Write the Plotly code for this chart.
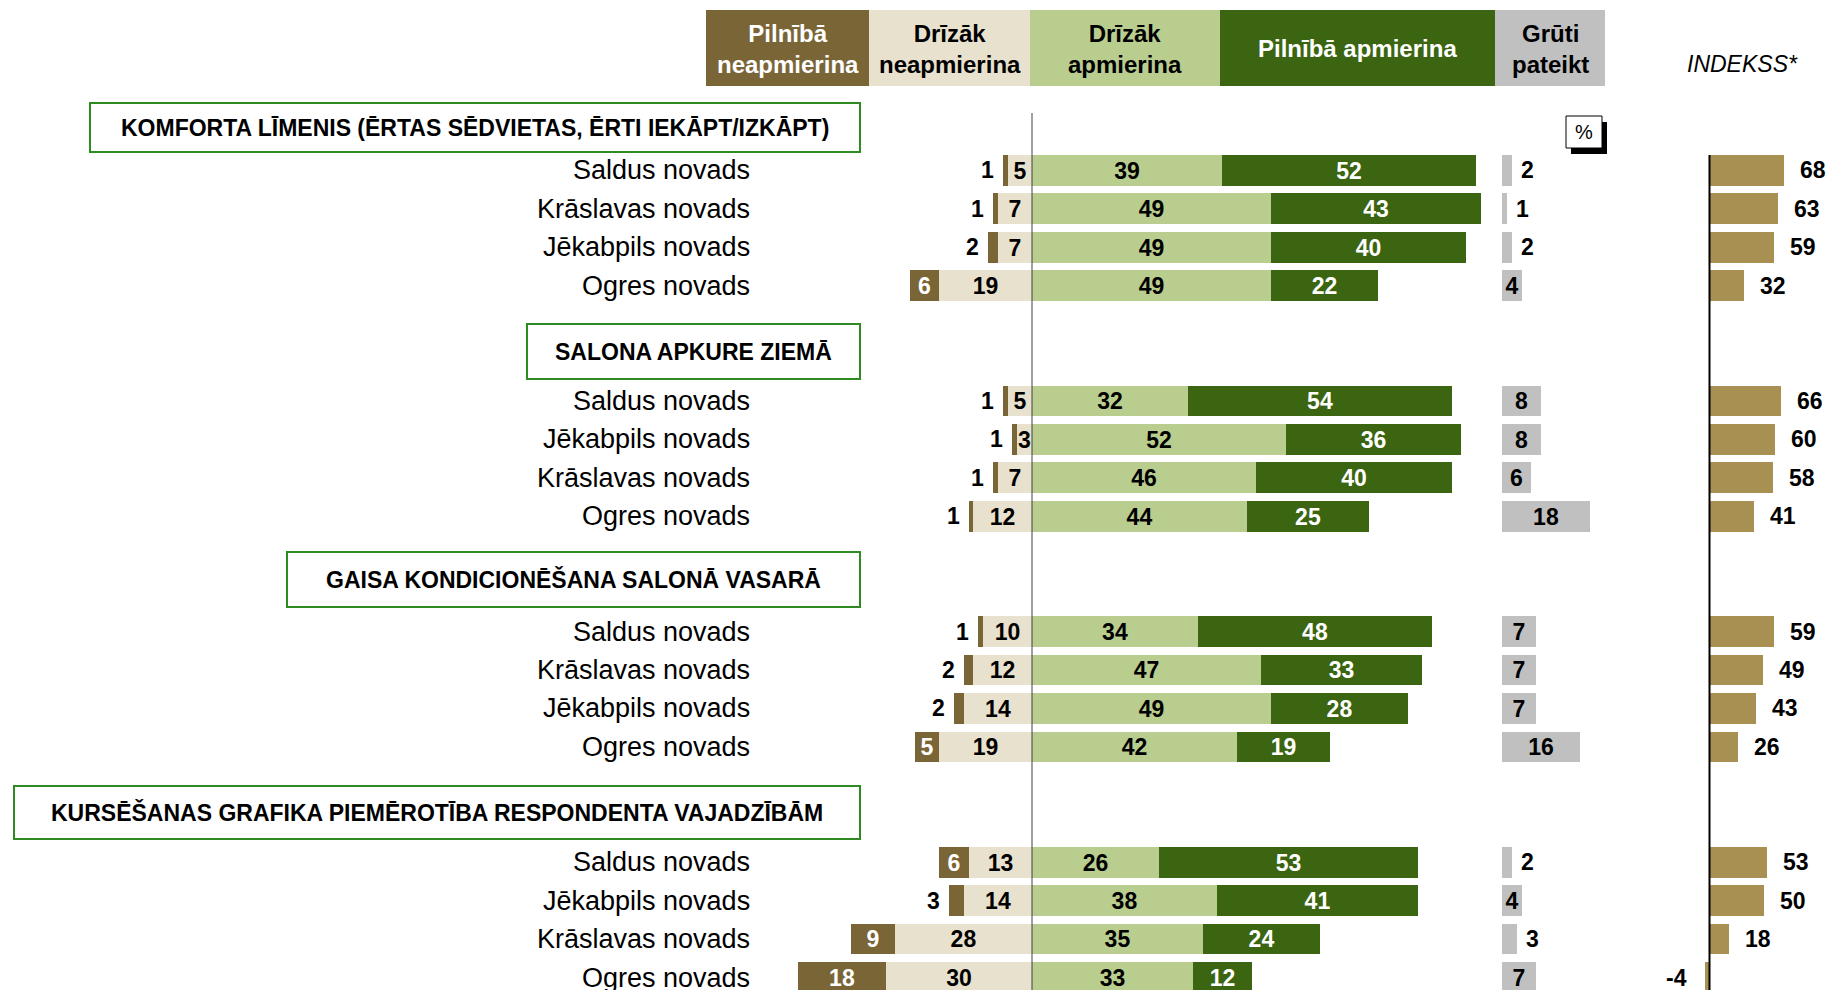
import plotly.graph_objects as go

W, H = 1829, 990

# ---------------- data ----------------
group_titles = [
    "KOMFORTA LĪMENIS (ĒRTAS SĒDVIETAS, ĒRTI IEKĀPT/IZKĀPT)",
    "SALONA APKURE ZIEMĀ",
    "GAISA KONDICIONĒŠANA SALONĀ VASARĀ",
    "KURSĒŠANAS GRAFIKA PIEMĒROTĪBA RESPONDENTA VAJADZĪBĀM",
]
regions = [
    ["Saldus novads", "Krāslavas novads", "Jēkabpils novads", "Ogres novads"],
    ["Saldus novads", "Jēkabpils novads", "Krāslavas novads", "Ogres novads"],
    ["Saldus novads", "Krāslavas novads", "Jēkabpils novads", "Ogres novads"],
    ["Saldus novads", "Jēkabpils novads", "Krāslavas novads", "Ogres novads"],
]
fully_dissatisfied = [[1, 1, 2, 6], [1, 1, 1, 1], [1, 2, 2, 5], [6, 3, 9, 18]]
rather_dissatisfied = [[5, 7, 7, 19], [5, 3, 7, 12], [10, 12, 14, 19], [13, 14, 28, 30]]
rather_satisfied = [[39, 49, 49, 49], [32, 52, 46, 44], [34, 47, 49, 42], [26, 38, 35, 33]]
fully_satisfied = [[52, 43, 40, 22], [54, 36, 40, 25], [48, 33, 28, 19], [53, 41, 24, 12]]
hard_to_say = [[2, 1, 2, 4], [8, 8, 6, 18], [7, 7, 7, 16], [2, 4, 3, 7]]
index_values = [[68, 63, 59, 32], [66, 60, 58, 41], [59, 49, 43, 26], [53, 50, 18, -4]]

legend_labels = ["Pilnībā<br>neapmierina", "Drīzāk<br>neapmierina", "Drīzāk<br>apmierina",
                 "Pilnībā apmierina", "Grūti<br>pateikt"]
index_title = "INDEKSS*"
unit_label = "%"

# ---------------- style ----------------
C_FD = "#7A6537"
C_RD = "#E8E1CD"
C_RA = "#B9CD8F"
C_FS = "#3B6510"
C_HS = "#C0C0C0"
C_IDX = "#A88F52"
C_BOX = "#2E8B22"
FONT = "Liberation Sans, Arial, sans-serif"

ROWS_PER_GROUP = 6
ROW0_PX = 170.3
PITCH_PX = 38.44
BAR_W = 0.8
NUM_SIZE = 23

def px(x):
    return x / W

def py(y):
    return 1 - y / H

# flatten
ys, cats, fd, rd, ra, fs, hs, idx = [], [], [], [], [], [], [], []
for g in range(len(group_titles)):
    for r in range(len(regions[g])):
        ys.append(g * ROWS_PER_GROUP + r)
        cats.append(regions[g][r])
        fd.append(fully_dissatisfied[g][r])
        rd.append(rather_dissatisfied[g][r])
        ra.append(rather_satisfied[g][r])
        fs.append(fully_satisfied[g][r])
        hs.append(hard_to_say[g][r])
        idx.append(index_values[g][r])

fig = go.Figure()

def bar(x, color, textcolor, texts, xaxis="x"):
    return go.Bar(
        y=ys, x=x, orientation="h", width=BAR_W,
        marker=dict(color=color, line=dict(width=0)),
        text=texts, texttemplate="<b>%{text}</b>", textposition="inside",
        insidetextanchor="middle", textangle=0, constraintext="none",
        textfont=dict(family=FONT, size=NUM_SIZE, color=textcolor),
        xaxis=xaxis, yaxis="y", hoverinfo="skip", showlegend=False,
    )

fig.add_trace(bar([-v for v in rd], C_RD, "black", [str(v) for v in rd]))
fig.add_trace(bar([-v for v in fd], C_FD, "white", [str(v) if v >= 5 else "" for v in fd]))
fig.add_trace(bar(ra, C_RA, "black", [str(v) for v in ra]))
fig.add_trace(bar(fs, C_FS, "white", [str(v) for v in fs]))
fig.add_trace(bar(hs, C_HS, "black", [str(v) if v >= 4 else "" for v in hs], xaxis="x2"))
fig.add_trace(bar(idx, C_IDX, "black", ["" for v in idx], xaxis="x3"))

annotations = []
label_font = dict(family=FONT, size=NUM_SIZE, color="black")

for y, a, b, h, v in zip(ys, fd, rd, hs, idx):
    if a < 5:
        annotations.append(dict(x=-(a + b), y=y, xref="x", yref="y", text=f"<b>{a}</b>",
                                showarrow=False, xanchor="right", xshift=-7, font=label_font))
    if h < 4:
        annotations.append(dict(x=h, y=y, xref="x2", yref="y", text=f"<b>{h}</b>",
                                showarrow=False, xanchor="left", xshift=7, font=label_font))
    if v >= 0:
        annotations.append(dict(x=v, y=y, xref="x3", yref="y", text=f"<b>{v}</b>",
                                showarrow=False, xanchor="left", xshift=14, font=label_font))
    else:
        annotations.append(dict(x=v, y=y, xref="x3", yref="y", text=f"<b>{v}</b>",
                                showarrow=False, xanchor="right", xshift=-16, font=label_font))

for y, c in zip(ys, cats):
    annotations.append(dict(x=px(752), y=y, xref="paper", yref="y", text=c, showarrow=False,
                            xanchor="right", font=dict(family=FONT, size=27, color="black")))

shapes = []
# section title boxes
box_px = [(90, 860, 103, 152), (527, 860, 324, 379), (287, 860, 552, 607), (14, 860, 786, 839)]
for (x0, x1, y0, y1), t in zip(box_px, group_titles):
    shapes.append(dict(type="rect", xref="paper", yref="paper", x0=px(x0), x1=px(x1),
                       y0=py(y1), y1=py(y0), line=dict(color=C_BOX, width=2), fillcolor="white",
                       layer="below"))
    annotations.append(dict(x=px((x0 + x1) / 2), y=py((y0 + y1) / 2), xref="paper", yref="paper",
                            text=f"<b>{t}</b>", showarrow=False, xanchor="center", yanchor="middle",
                            font=dict(family=FONT, size=23, color="black")))

# header legend
leg_edges = [706, 869, 1030, 1220, 1495, 1605]
leg_colors = [C_FD, C_RD, C_RA, C_FS, C_HS]
leg_text_colors = ["white", "black", "black", "white", "black"]
for i, lab in enumerate(legend_labels):
    x0, x1 = leg_edges[i], leg_edges[i + 1]
    shapes.append(dict(type="rect", xref="paper", yref="paper", x0=px(x0), x1=px(x1),
                       y0=py(86), y1=py(10), line=dict(width=0), fillcolor=leg_colors[i]))
    annotations.append(dict(x=px((x0 + x1) / 2), y=py(49), xref="paper", yref="paper",
                            text=f"<b>{lab}</b>", showarrow=False, xanchor="center", yanchor="middle",
                            align="center",
                            font=dict(family=FONT, size=24, color=leg_text_colors[i])))

annotations.append(dict(x=px(1742), y=py(64), xref="paper", yref="paper", text=f"<i>{index_title}</i>",
                        showarrow=False, xanchor="center", yanchor="middle",
                        font=dict(family=FONT, size=23, color="black")))

# percent box with shadow
shapes.append(dict(type="rect", xref="paper", yref="paper", x0=px(1571), x1=px(1607),
                   y0=py(154), y1=py(122), line=dict(width=0), fillcolor="black"))
shapes.append(dict(type="rect", xref="paper", yref="paper", x0=px(1566), x1=px(1602),
                   y0=py(148), y1=py(116), line=dict(color="black", width=1), fillcolor="white"))
annotations.append(dict(x=px(1584), y=py(132), xref="paper", yref="paper", text=unit_label,
                        showarrow=False, xanchor="center", yanchor="middle",
                        font=dict(family=FONT, size=20, color="black")))

# axis lines
shapes.append(dict(type="line", xref="x", yref="paper", x0=0, x1=0, y0=0, y1=py(113),
                   line=dict(color="#404040", width=1), layer="above"))
shapes.append(dict(type="line", xref="x3", yref="paper", x0=0, x1=0, y0=0, y1=py(155),
                   line=dict(color="black", width=2), layer="above"))

CENTER = 1032
SCALE = 4.88
IDX_ZERO = 1709.5
IDX_SCALE = 1.09
hidden = dict(showgrid=False, zeroline=False, showticklabels=False, ticks="", showline=False,
              fixedrange=True)

fig.update_layout(
    width=W, height=H,
    margin=dict(l=0, r=0, t=0, b=0),
    paper_bgcolor="white", plot_bgcolor="rgba(0,0,0,0)",
    barmode="relative", bargap=0,
    showlegend=False,
    font=dict(family=FONT),
    xaxis=dict(domain=[px(700), px(1495)], range=[(700 - CENTER) / SCALE, (1495 - CENTER) / SCALE],
               anchor="y", **hidden),
    xaxis2=dict(domain=[px(1502), px(1625)], range=[0, (1625 - 1502) / SCALE], anchor="y", **hidden),
    xaxis3=dict(domain=[px(1660), 1], range=[(1660 - IDX_ZERO) / IDX_SCALE, (W - IDX_ZERO) / IDX_SCALE],
                anchor="y", **hidden),
    yaxis=dict(domain=[0, 1], range=[(H - ROW0_PX) / PITCH_PX, -ROW0_PX / PITCH_PX], **hidden),
    shapes=shapes,
    annotations=annotations,
)

fig.write_html("out.html", config={"displayModeBar": False},
               post_script="document.body.style.margin='0';document.body.style.overflow='hidden';")
